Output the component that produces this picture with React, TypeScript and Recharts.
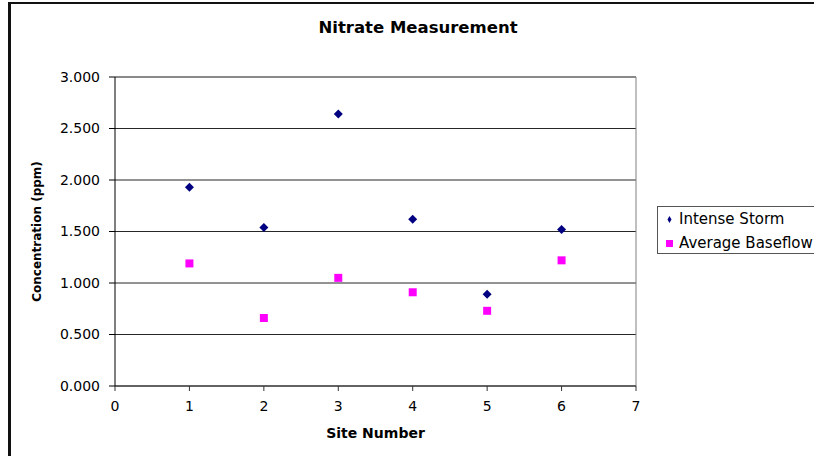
import { ScatterChart, Scatter, XAxis, YAxis, CartesianGrid, Legend, ReferenceLine, Label } from "recharts";

const sites = [1, 2, 3, 4, 5, 6];
const intenseStorm = [1.93, 1.54, 2.64, 1.62, 0.89, 1.52];
const averageBaseflow = [1.19, 0.66, 1.05, 0.91, 0.73, 1.22];
const xTicks = [0, 1, 2, 3, 4, 5, 6, 7];
const yTicks = [0, 0.5, 1, 1.5, 2, 2.5, 3];

const stormData = sites.map((s, i) => ({ site: s, value: intenseStorm[i] }));
const baseData = sites.map((s, i) => ({ site: s, value: averageBaseflow[i] }));

const font = "'DejaVu Sans', Arial, sans-serif";

// small diamond like the Excel marker
const Diamond = (props: any) => {
  const { cx, cy, fill } = props;
  const r = 4.5;
  return <polygon points={`${cx},${cy - r} ${cx + r},${cy} ${cx},${cy + r} ${cx - r},${cy}`} fill={fill} />;
};

export default function App() {
  return (
    <div style={{ position: "absolute", left: 0, top: 0, width: 814, height: 456, overflow: "hidden", background: "#fff", fontFamily: font }}>
      <div style={{ position: "absolute", left: 8, top: 2, width: 900, height: 500, borderLeft: "3px solid #111", borderTop: "2px solid #111" }} />
      <div style={{ position: "absolute", left: 0, top: 18, width: 836, textAlign: "center", fontWeight: "bold", fontSize: 16.5 }}>
        Nitrate Measurement
      </div>
      <div style={{ position: "absolute", left: 0, top: 0 }}>
        <ScatterChart width={814} height={456} margin={{ top: 77, right: 178, bottom: 20, left: 20 }}>
          <CartesianGrid horizontal vertical={false} stroke="#000" strokeOpacity={0.85} />
          <XAxis
            type="number"
            dataKey="site"
            domain={[0, 7]}
            ticks={xTicks}
            height={50}
            tickSize={5}
            tickMargin={10}
            stroke="#333"
            tick={{ fill: "#000", fontSize: 14, fontFamily: font }}
          >
            <Label value="Site Number" position="insideBottom" offset={-2} style={{ fontWeight: "bold", fontSize: 14, fill: "#000", fontFamily: font }} />
          </XAxis>
          <YAxis
            type="number"
            dataKey="value"
            domain={[0, 3]}
            ticks={yTicks}
            width={95}
            tickSize={6}
            tickMargin={9}
            stroke="#000"
            tickFormatter={(v: number) => v.toFixed(3)}
            tick={{ fill: "#000", fontSize: 14, fontFamily: font }}
          >
            <Label value="Concentration (ppm)" angle={-90} position="insideLeft" offset={17} style={{ textAnchor: "middle", fontWeight: "bold", fontSize: 12, fill: "#000", fontFamily: font }} />
          </YAxis>
          <ReferenceLine x={7} stroke="#808080" />
          <ReferenceLine y={3} stroke="#808080" />
          <Legend
            layout="vertical"
            align="center"
            verticalAlign="middle"
            iconSize={7}
            itemSorter={null as any}
            formatter={(v: string) => <span style={{ color: "#000", fontSize: 15, fontFamily: font, marginLeft: 2 }}>{v}</span>}
            wrapperStyle={{ left: 657, top: 206, right: "auto", bottom: "auto", width: 190, height: 48, border: "1px solid #555", padding: "0 0 0 8px", boxSizing: "border-box", lineHeight: "24px", textAlign: "left", whiteSpace: "nowrap" }}
          />
          <Scatter name="Intense Storm" data={stormData} fill="#000080" shape={<Diamond />} legendType="diamond" isAnimationActive={false} />
          <Scatter name="Average Baseflow" data={baseData} fill="#FF00FF" shape="square" legendType="square" isAnimationActive={false} />
        </ScatterChart>
      </div>
    </div>
  );
}
